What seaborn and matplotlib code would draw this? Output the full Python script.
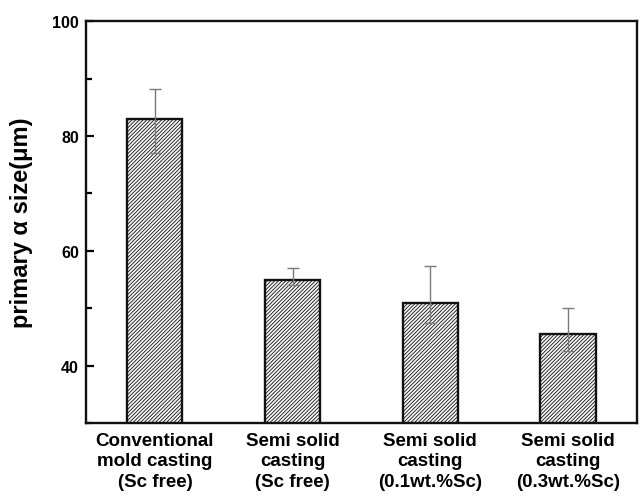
import numpy as np
import matplotlib
matplotlib.use("Agg")
import matplotlib.pyplot as plt
import seaborn as sns
from matplotlib.ticker import MultipleLocator

# valeurs
categories = ["Conventional\nmold casting\n(Sc free)",
              "Semi solid\ncasting\n(Sc free)",
              "Semi solid\ncasting\n(0.1wt.%Sc)",
              "Semi solid\ncasting\n(0.3wt.%Sc)"]
size_mean = [83.0, 55.0, 51.0, 45.6]
err_low = [77.0, 54.0, 47.5, 42.5]
err_high = [88.1, 57.0, 57.3, 50.1]

sns.set_style("white")
plt.rcParams['font.family'] = ['Liberation Sans', 'DejaVu Sans']
plt.rcParams['font.weight'] = 'bold'
plt.rcParams['text.color'] = 'black'
plt.rcParams['hatch.color'] = '#8c8c8c'
plt.rcParams['hatch.linewidth'] = 0.6

fig = plt.figure(figsize=(6.42, 5.02), dpi=100)
ax = fig.add_axes([0.134, 0.155, 0.858, 0.801])

sns.barplot(x=categories, y=size_mean, color='#f6f6f6', width=0.4,
            edgecolor='#111111', linewidth=1.7, ax=ax, errorbar=None)
for p in ax.patches:
    p.set_hatch('/////////')

mean = np.array(size_mean)
yerr = np.vstack([mean - np.array(err_low), np.array(err_high) - mean])
ax.errorbar(np.arange(len(categories)), mean, yerr=yerr, fmt='none',
            ecolor='#7a7a7a', elinewidth=1.0, capsize=4, capthick=1.0)

ax.set_xlim(-0.5, 3.5)
ax.set_ylim(30, 100)
ax.yaxis.set_major_locator(MultipleLocator(20))
ax.yaxis.set_minor_locator(MultipleLocator(10))
ax.set_yticks([40, 60, 80, 100])
ax.tick_params(axis='y', which='major', direction='in', length=6, width=1.6,
               labelsize=11.5, pad=5, left=True, colors='black')
ax.tick_params(axis='y', which='minor', direction='in', length=4, width=1.6,
               left=True, colors='black')
ax.tick_params(axis='x', direction='in', length=6, width=1.6, labelsize=13.5,
               pad=6, bottom=True, colors='black')
for lab in ax.get_xticklabels():
    lab.set_fontweight('bold')
    lab.set_linespacing(1.3)
for lab in ax.get_yticklabels():
    lab.set_fontweight('bold')

ax.set_ylabel("primary α size(μm)", fontsize=17, fontweight='bold',
              labelpad=14, color='black')

for s in ax.spines.values():
    s.set_linewidth(1.7)
    s.set_color('#111111')
    s.set_visible(True)

fig.savefig("out.png", dpi=100)
